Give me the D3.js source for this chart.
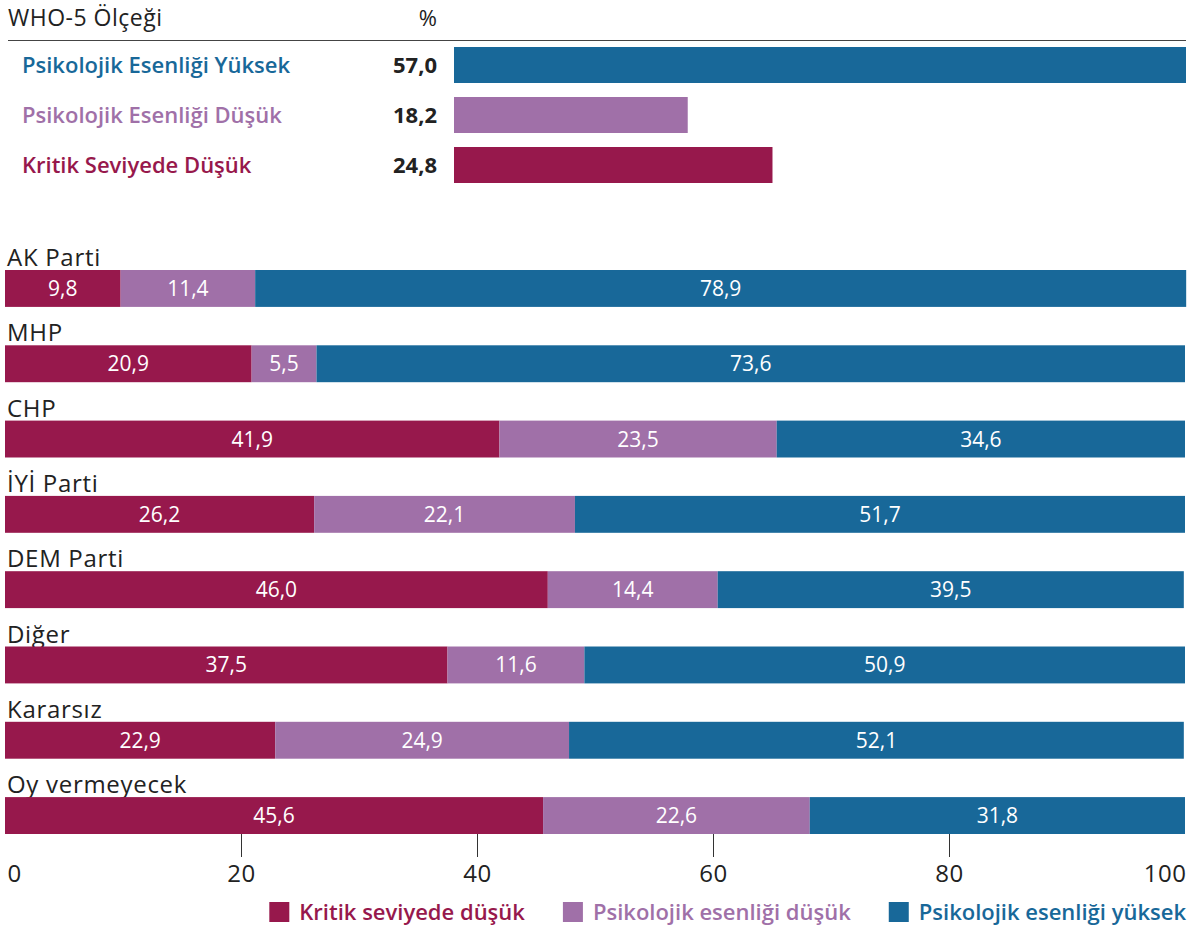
<!DOCTYPE html>
<html>
<head>
<meta charset="utf-8">
<script src="https://cdn.jsdelivr.net/npm/d3@7"></script>
<style>
  html, body { margin: 0; padding: 0; background: #fff; }
  svg { display: block; font-family: "Open Sans", Lato, sans-serif; }
</style>
</head>
<body>
<div id="container"></div>
<script>
// WHO-5 overall
const whoLabels = ["Psikolojik Esenliği Yüksek", "Psikolojik Esenliği Düşük", "Kritik Seviyede Düşük"];
const whoValues = [57.0, 18.2, 24.8];
const whoColors = ["#186899", "#a070a8", "#97184c"];

// by party
const parties = ["AK Parti", "MHP", "CHP", "İYİ Parti", "DEM Parti", "Diğer", "Kararsız", "Oy vermeyecek"];
const kritik = [9.8, 20.9, 41.9, 26.2, 46.0, 37.5, 22.9, 45.6];
const dusuk = [11.4, 5.5, 23.5, 22.1, 14.4, 11.6, 24.9, 22.6];
const yuksek = [78.9, 73.6, 34.6, 51.7, 39.5, 50.9, 52.1, 31.8];
const seriesNames = ["Kritik seviyede düşük", "Psikolojik esenliği düşük", "Psikolojik esenliği yüksek"];
const seriesColors = ["#97184c", "#a070a8", "#186899"];
const ticks = [0, 20, 40, 60, 80, 100];

const fmt = v => d3.format(".1f")(v).replace(".", ",");

function init() {
  const width = 1190, height = 926;
  const svg = d3.select("#container").append("svg")
    .attr("width", width).attr("height", height);

  // ---- top panel ----
  svg.append("text").attr("x", 8).attr("y", 26)
    .attr("font-size", 23).attr("font-weight", 400).attr("fill", "#222")
    .attr("letter-spacing", 0.5)
    .text("WHO-5 Ölçeği");
  svg.append("text").attr("x", 437).attr("y", 26).attr("text-anchor", "end")
    .attr("font-size", 22).attr("font-weight", 400).attr("fill", "#222")
    .text("%");
  svg.append("line").attr("x1", 8).attr("x2", 1186).attr("y1", 40.5).attr("y2", 40.5)
    .attr("stroke", "#444").attr("stroke-width", 1);

  const xTop = d3.scaleLinear().domain([0, d3.max(whoValues)]).range([454, 1186]);
  const yTop = d3.scaleBand().domain(whoLabels).range([47, 183]).paddingInner(0.28).paddingOuter(0);

  const top = svg.append("g").selectAll("g").data(whoLabels).join("g");
  top.append("rect")
    .attr("x", xTop(0))
    .attr("y", d => yTop(d))
    .attr("width", (d, i) => xTop(whoValues[i]) - xTop(0))
    .attr("height", yTop.bandwidth())
    .attr("fill", (d, i) => whoColors[i]);
  top.append("text")
    .attr("x", 22).attr("y", d => yTop(d) + yTop.bandwidth() / 2 + 8)
    .attr("font-size", 22).attr("font-weight", 600)
    .attr("fill", (d, i) => whoColors[i])
    .text(d => d);
  top.append("text")
    .attr("x", 437).attr("y", d => yTop(d) + yTop.bandwidth() / 2 + 8)
    .attr("text-anchor", "end")
    .attr("font-size", 22).attr("font-weight", 700).attr("fill", "#222")
    .text((d, i) => fmt(whoValues[i]));

  // ---- stacked bars ----
  const rows = parties.map((p, i) => ({ party: p, k: kritik[i], d: dusuk[i], y: yuksek[i] }));
  const stack = d3.stack().keys(["k", "d", "y"])(rows);

  const x = d3.scaleLinear().domain([0, 100]).range([5, 1185]);
  const y = d3.scaleBand().domain(parties).range([270, 834]).paddingInner(0.51).paddingOuter(0);

  const labels = svg.append("g");
  labels.selectAll("text").data(parties).join("text")
    .attr("x", 7).attr("y", d => y(d) - 4)
    .attr("font-size", 24).attr("font-weight", 400).attr("fill", "#222")
    .attr("letter-spacing", 0.7)
    .text(d => d);

  const layers = svg.append("g").selectAll("g").data(stack).join("g")
    .attr("fill", (d, i) => seriesColors[i]);
  layers.selectAll("rect").data(d => d).join("rect")
    .attr("x", d => x(d[0]))
    .attr("y", d => y(d.data.party))
    .attr("width", d => x(d[1]) - x(d[0]))
    .attr("height", y.bandwidth());
  layers.selectAll("text").data(d => d).join("text")
    .attr("x", d => (x(d[0]) + x(d[1])) / 2)
    .attr("y", d => y(d.data.party) + y.bandwidth() / 2 + 7.5)
    .attr("text-anchor", "middle")
    .attr("font-size", 21).attr("font-weight", 400).attr("fill", "#fff")
    .text(d => fmt(d[1] - d[0]));

  // ---- axis ----
  const axisY = y(parties[parties.length - 1]) + y.bandwidth();
  const axis = svg.append("g").attr("transform", `translate(0,${axisY})`)
    .call(d3.axisBottom(x).tickValues(ticks).tickSize(23).tickPadding(8).tickFormat(d3.format("d")));
  axis.select(".domain").remove();
  axis.selectAll(".tick line").attr("stroke", "#333")
    .attr("display", d => (d === 0 || d === 100) ? "none" : null);
  axis.selectAll(".tick text")
    .attr("font-family", "'Open Sans', Lato, sans-serif")
    .attr("font-size", 24).attr("font-weight", 400).attr("fill", "#222")
    .attr("letter-spacing", 0.5)
    .attr("text-anchor", d => d === 0 ? "start" : d === 100 ? "end" : "middle")
    .attr("dx", d => d === 0 ? 2 : d === 100 ? 1 : 0);

  // ---- legend (right aligned) ----
  const legend = svg.append("g");
  const items = legend.selectAll("g").data(seriesNames).join("g");
  items.append("rect").attr("width", 20).attr("height", 20).attr("y", 902)
    .attr("fill", (d, i) => seriesColors[i]);
  items.append("text").attr("x", 30).attr("y", 920)
    .attr("font-size", 22).attr("font-weight", 600)
    .attr("fill", (d, i) => seriesColors[i])
    .text(d => d);
  const widths = [];
  items.select("text").each(function () { widths.push(30 + this.getComputedTextLength()); });
  const gap = 38;
  let xr = 1186;
  const offs = [];
  for (let i = widths.length - 1; i >= 0; i--) { xr -= widths[i]; offs[i] = xr; xr -= gap; }
  items.attr("transform", (d, i) => `translate(${offs[i]},0)`);
}

document.addEventListener("DOMContentLoaded", init);
</script>
</body>
</html>
